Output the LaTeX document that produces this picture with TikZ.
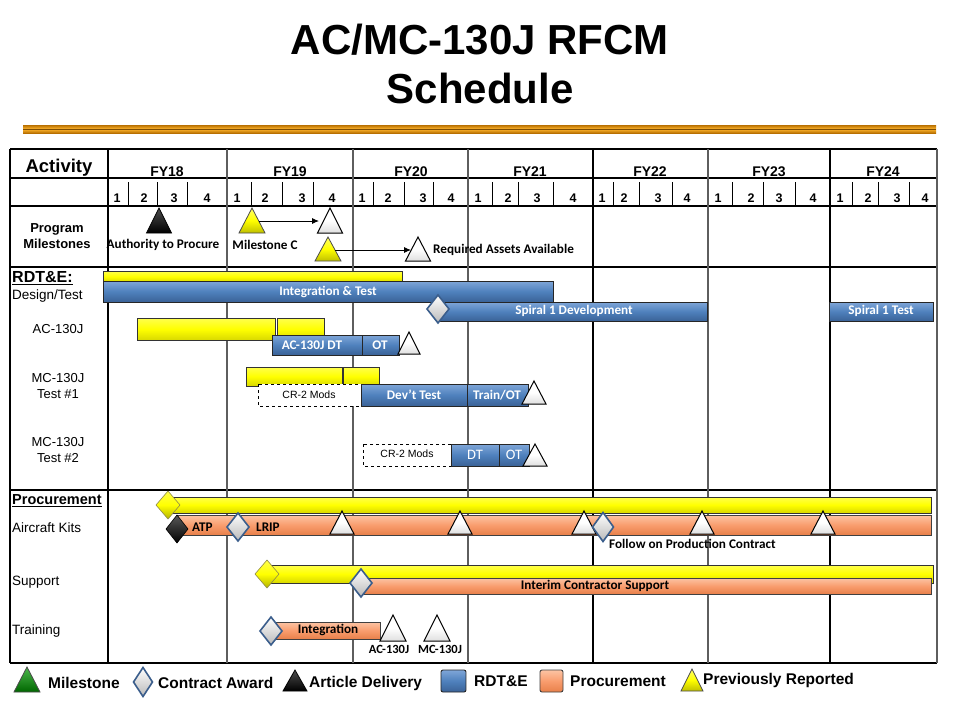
\documentclass[tikz,border=0pt]{standalone}
\usepackage{fontspec}
\setmainfont{Liberation Sans}
\newfontfamily\calfont{Carlito}
\usetikzlibrary{arrows.meta}
\definecolor{rdtblue}{HTML}{4F81BD}
\definecolor{rdttop}{HTML}{7FA6D8}
\definecolor{rdtbot}{HTML}{3A6297}
\definecolor{procmid}{HTML}{F99D6E}
\definecolor{proctop}{HTML}{FCC4A4}
\definecolor{procbot}{HTML}{E8804A}
\definecolor{goldA}{HTML}{B86F00}
\definecolor{goldB}{HTML}{FFB62E}
\definecolor{diaedge}{HTML}{3B5E8C}
\definecolor{gridgray}{HTML}{5E5E5E}
\newcommand\mytri[5]{\path[#1] (#2,#3) -- (#2+#5,#4) -- (#2-#5,#4) -- cycle;}
\newcommand\mydia[5]{\path[#1] (#2,#3-#5) -- (#2+#4,#3) -- (#2,#3+#5) -- (#2-#4,#3) -- cycle;}
\begin{document}
\begin{tikzpicture}[x=1pt,y=-1pt,
  bline/.style={line width=1.2pt, draw=black},
  gline/.style={line width=1.2pt, draw=gridgray},
  tick/.style={line width=1pt, draw=black},
  bluebar/.style={draw=black!85, line width=0.9pt, top color=rdttop, bottom color=rdtbot, middle color=rdtblue},
  orangebar/.style={draw=black!75, line width=0.9pt, top color=proctop, bottom color=procbot, middle color=procmid},
  yellowbar/.style={draw=black!80, line width=0.9pt, top color=yellow!70!white, bottom color=yellow!85!black, middle color=yellow},
  dashbox/.style={draw=black, dashed, line width=0.8pt, fill=white},
  whitetri/.style={draw=black, line width=1pt, top color=white, bottom color=gray!25, middle color=white},
  yellowtri/.style={draw=black!70, line width=0.8pt, top color=yellow!60!white, bottom color=yellow!75!black, middle color=yellow},
  blacktri/.style={draw=black, line width=0.8pt, top color=black!70, bottom color=black},
  greentri/.style={draw=black!70, line width=0.8pt, top color=green!60!black!70!white, bottom color=green!40!black},
  bluedia/.style={draw=diaedge, line width=1.6pt, top color=white, bottom color=gray!55},
  yellowdia/.style={draw=black!50!yellow, line width=0.6pt, top color=yellow!70!white, bottom color=yellow!70!black, middle color=yellow},
  blackdia/.style={draw=black, line width=0.6pt, top color=black!65, bottom color=black},
  bartext/.style={font=\calfont\bfseries\fontsize{13.2}{15}\selectfont, text=white, inner sep=0pt},
  calblack/.style={font=\calfont\bfseries\fontsize{13.2}{15}\selectfont, text=black, inner sep=0pt},
  qnum/.style={font=\bfseries\fontsize{12.5}{14}\selectfont, inner sep=0pt},
  fylab/.style={font=\bfseries\fontsize{14}{16}\selectfont, inner sep=0pt},
  rowlab/.style={font=\fontsize{13.5}{16}\selectfont, inner sep=0pt, anchor=west},
  rowlabc/.style={font=\fontsize{13}{16}\selectfont, inner sep=0pt, align=center},
  crtext/.style={font=\fontsize{10.5}{12}\selectfont, inner sep=0pt},
  legtext/.style={font=\bfseries\fontsize{15.5}{18}\selectfont, inner sep=0pt, anchor=west},
  arr/.style={-{Latex[length=7pt,width=6pt]}, line width=0.9pt}
]
\useasboundingbox (0,0) rectangle (960,720);
\fill[white] (0,0) rectangle (960,720);

% title
\node[font=\bfseries\fontsize{42}{46}\selectfont, inner sep=0pt] (title1) at (480,40) {AC/MC-130J RFCM};
\node[font=\bfseries\fontsize{42}{46}\selectfont, inner sep=0pt] (title2) at (480,88) {Schedule};
\shade[top color=goldA, bottom color=goldA, middle color=goldB] (23,125) rectangle (936,133);
\draw[goldA!70!black, line width=0.4pt] (23,129) -- (936,129);

% table grid
\foreach \y in {149,178,206,267,490,663} \draw[bline] (10,\y) -- (937,\y);
\foreach \x in {10,108,593,830} \draw[bline] (\x,149) -- (\x,663);
\foreach \x in {227,353,468,708,937} \draw[gline] (\x,149) -- (\x,663);
\foreach \x in {128,157,187,251,282,313,373,404,433,492,518,553,613,639,672,732,763,795,852,878,909}
  \draw[tick] (\x,182) -- (\x,206);

% header
\node[font=\bfseries\fontsize{18.5}{20}\selectfont, inner sep=0pt] (act) at (59,168) {Activity};
\node[fylab] (fy18) at (167,172) {FY18};
\node[fylab] (fy19) at (290,172) {FY19};
\node[fylab] (fy20) at (411,172) {FY20};
\node[fylab] (fy21) at (530,172) {FY21};
\node[fylab] (fy22) at (650,172) {FY22};
\node[fylab] (fy23) at (769,172) {FY23};
\node[fylab] (fy24) at (883,172) {FY24};
\foreach \x/\q [count=\i] in {117/1,144/2,174/3,207/4,237/1,265/2,302/3,332/4,362/1,388/2,423/3,451/4,478/1,508/2,537/3,573/4,602/1,624/2,658/3,687/4,718/1,751/2,779/3,813/4,840/1,868/2,897/3,925/4}
  \node[qnum] (q\i) at (\x,198) {\q};

% row labels
\node[font=\bfseries\fontsize{13}{16}\selectfont, inner sep=0pt, align=center] (lpm) at (57,236) {Program\\Milestones};
\node[font=\bfseries\fontsize{16}{18}\selectfont, inner sep=0pt, anchor=west] (lrdte) at (12,278) {\underline{RDT\&E:}};
\node[rowlab] (ldt) at (12,296) {Design/Test};
\node[rowlabc] (lac) at (58,329) {AC-130J};
\node[rowlabc] (lmc1) at (58,386) {MC-130J\\Test \#1};
\node[rowlabc] (lmc2) at (58,450) {MC-130J\\Test \#2};
\node[font=\bfseries\fontsize{14.5}{17}\selectfont, inner sep=0pt, anchor=west] (lproc) at (12,501) {\underline{Procurement}};
\node[rowlab] (lkits) at (12,528) {Aircraft Kits};
\node[rowlab] (lsup) at (12,582) {Support};
\node[rowlab] (ltrn) at (12,631) {Training};

% program milestones
\mytri{blacktri}{159}{208}{233}{12.5}
\node[calblack] (atp1) at (163,245) {Authority to Procure};
\mytri{yellowtri}{252}{208}{233}{13}
\mytri{whitetri}{330}{208}{233}{12.5}
\node[calblack] (msc) at (265,245) {Milestone C};
\coordinate (a1s) at (259,221);
\coordinate (a1e) at (319,221);
\draw[arr] (a1s) -- (a1e);
\mytri{yellowtri}{328}{237}{261}{13}
\mytri{whitetri}{418}{237}{261}{12.5}
\coordinate (a2s) at (335,250);
\coordinate (a2e) at (411,250);
\draw[arr] (a2s) -- (a2e);
\node[calblack, anchor=west] (raa) at (433,250) {Required Assets Available};

% RDT&E design/test
\path[yellowbar] (103,271) rectangle (402,282);
\path[bluebar] (103,281) rectangle (553,302);
\node[bartext] (it) at (328,292) {Integration \& Test};
\path[bluebar] (438,302) rectangle (707,321);
\node[bartext] (s1d) at (574,311) {Spiral 1 Development};
\mydia{bluedia}{438}{309}{11}{14}
\path[bluebar] (829,302) rectangle (933,321);
\node[bartext] (s1t) at (881,311) {Spiral 1 Test};

% AC-130J
\path[yellowbar] (137,318) rectangle (275,340);
\path[yellowbar] (277,318) rectangle (324,340);
\path[bluebar] (272,335) rectangle (362,355);
\node[bartext] (acdt) at (312,345) {AC-130J DT};
\path[bluebar] (362,335) rectangle (399,355);
\node[bartext] (acot) at (380,345) {OT};
\mytri{whitetri}{409}{332}{354}{11}

% MC-130J Test #1
\path[yellowbar] (246,367) rectangle (342,386);
\path[yellowbar] (343,367) rectangle (379,386);
\path[dashbox] (258,384) rectangle (361,406);
\node[crtext] (cr1) at (309,395) {CR-2 Mods};
\path[bluebar] (361,384) rectangle (467,406);
\node[bartext] (devt) at (414,395) {Dev’t Test};
\path[bluebar] (467,384) rectangle (528,406);
\node[bartext] (trot) at (497,395) {Train/OT};
\mytri{whitetri}{534}{381}{404}{12}

% MC-130J Test #2
\path[dashbox] (363,444) rectangle (451,466);
\node[crtext] (cr2) at (407,454) {CR-2 Mods};
\path[bluebar] (451,444) rectangle (499,466);
\node[bartext, font=\calfont\fontsize{14.5}{16}\selectfont] (dt2) at (475,455) {DT};
\path[bluebar] (499,444) rectangle (529,466);
\node[bartext, font=\calfont\fontsize{14.5}{16}\selectfont] (ot2) at (514,455) {OT};
\mytri{whitetri}{535}{444}{466}{12}

% Procurement: aircraft kits
\path[yellowbar] (168,497) rectangle (931,513);
\path[orangebar] (177,515) rectangle (931,535);
\mydia{yellowdia}{168}{505}{12}{14}
\mydia{blackdia}{177}{529}{11}{14}
\node[calblack, anchor=west] (atp) at (192,527) {ATP};
\mydia{bluedia}{238}{527}{11}{14}
\node[calblack, anchor=west] (lrip) at (256,527) {LRIP};
\foreach \x in {342,460,584,702,823} {\mytri{whitetri}{\x}{511}{534}{12}}
\mydia{bluedia}{603}{527}{10.5}{14.5}
\node[calblack, anchor=west] (fopc) at (609,544) {Follow on Production  Contract};

% Support
\path[yellowbar] (267,565) rectangle (933,583);
\path[orangebar] (360,578) rectangle (931,594);
\mydia{yellowdia}{267}{574}{12}{14}
\mydia{bluedia}{361}{583}{11}{14}
\node[calblack] (ics) at (595,586) {Interim Contractor Support};

% Training
\path[orangebar] (271,622) rectangle (380,639);
\mydia{bluedia}{271}{631}{11}{14}
\node[calblack] (integ) at (328,630) {Integration};
\mytri{whitetri}{393}{615}{641}{13}
\mytri{whitetri}{437}{615}{641}{13}
\node[calblack, font=\calfont\bfseries\fontsize{12.5}{14}\selectfont] (tac) at (389,649) {AC-130J};
\node[calblack, font=\calfont\bfseries\fontsize{12.5}{14}\selectfont] (tmc) at (440,649) {MC-130J};

% legend
\mytri{greentri}{27}{667}{692}{13}
\node[legtext] (lg1) at (48,683) {Milestone};
\mydia{bluedia}{143}{682}{9.5}{14.5}
\node[legtext] (lg2) at (158,683) {Contract Award};
\mytri{blacktri}{295}{670}{691}{12}
\node[legtext] (lg3) at (309,683) {Article Delivery};
\path[bluebar, rounded corners=2pt] (441,670) rectangle (466,692);
\node[legtext] (lg4) at (474,681) {RDT\&E};
\path[orangebar, rounded corners=2pt] (540,670) rectangle (563,692);
\node[legtext] (lg5) at (570,681) {Procurement};
\mytri{yellowtri}{692}{669}{691}{11}
\node[legtext] (lg6) at (703,680) {Previously Reported};
\end{tikzpicture}
\end{document}
